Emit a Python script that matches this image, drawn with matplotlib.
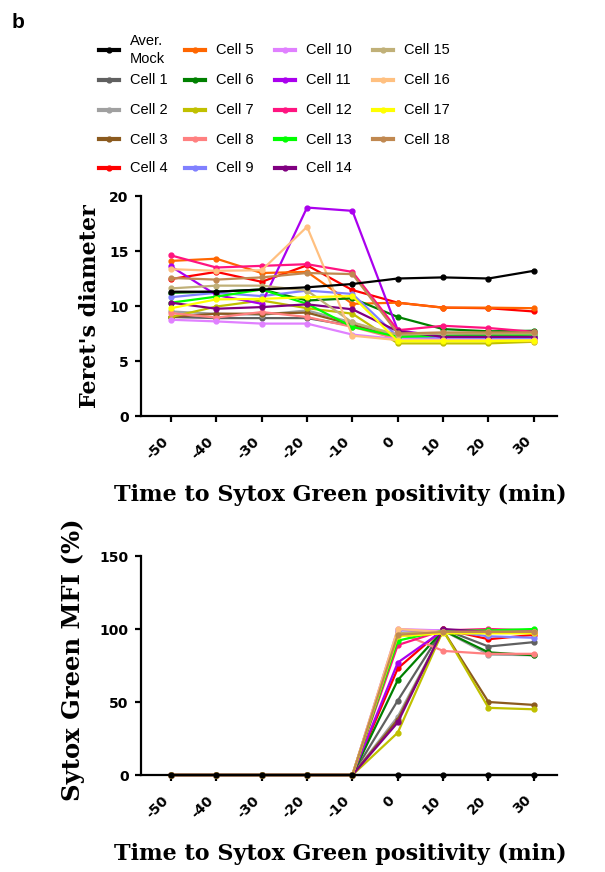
import matplotlib
matplotlib.use("Agg")
import matplotlib.pyplot as plt
from matplotlib.lines import Line2D

time_min = [-50, -40, -30, -20, -10, 0, 10, 20, 30]
tick_labels = ["-50", "-40", "-30", "-20", "-10", "0", "10", "20", "30"]

series_names = ["Aver.\nMock"] + [f"Cell {i}" for i in range(1, 19)]
series_colors = ["#000000", "#606060", "#A0A0A0", "#8B5A1E", "#FF0000", "#FF6600",
                 "#008000", "#C0C000", "#FF8080", "#8080FF", "#E080FF", "#AA00EE",
                 "#FF1480", "#00FF00", "#800080", "#C0B078", "#FFC080", "#FFFF00",
                 "#C08850"]

# Feret's diameter
feret_mock = [11.3, 11.3, 11.5, 11.7, 12.0, 12.5, 12.6, 12.5, 13.2]
feret_c1 = [9.0, 8.9, 8.9, 8.9, 8.2, 7.3, 7.3, 7.4, 7.5]
feret_c2 = [9.5, 9.3, 9.2, 9.6, 8.5, 7.2, 7.2, 7.2, 7.2]
feret_c3 = [9.0, 9.3, 9.3, 9.4, 8.3, 7.0, 7.0, 7.0, 7.0]
feret_c4 = [12.45, 13.1, 12.2, 13.7, 11.45, 10.3, 9.85, 9.8, 9.5]
feret_c5 = [14.1, 14.3, 13.0, 13.1, 10.2, 10.3, 9.85, 9.85, 9.8]
feret_c6 = [11.2, 11.3, 11.5, 10.5, 10.7, 9.0, 7.9, 7.7, 7.75]
feret_c7 = [9.0, 9.95, 10.5, 9.8, 9.3, 6.6, 6.6, 6.6, 6.75]
feret_c8 = [9.35, 8.95, 9.45, 9.0, 8.1, 7.0, 6.9, 6.9, 6.8]
feret_c9 = [10.8, 11.2, 10.9, 11.4, 11.1, 7.2, 7.1, 7.0, 7.0]
feret_c10 = [8.75, 8.6, 8.4, 8.4, 7.4, 7.0, 6.95, 6.9, 6.9]
feret_c11 = [13.6, 11.0, 10.2, 18.95, 18.65, 7.8, 7.2, 7.2, 7.2]
feret_c12 = [14.6, 13.5, 13.65, 13.8, 13.1, 7.8, 8.2, 8.0, 7.65]
feret_c13 = [10.3, 10.85, 11.5, 10.2, 8.1, 7.2, 7.3, 7.3, 7.4]
feret_c14 = [10.3, 9.75, 9.9, 10.15, 9.7, 7.7, 7.2, 7.2, 7.2]
feret_c15 = [11.6, 11.85, 11.85, 11.4, 8.5, 7.4, 7.5, 7.5, 7.5]
feret_c16 = [13.35, 13.2, 13.25, 17.2, 7.3, 6.9, 6.9, 6.9, 6.9]
feret_c17 = [9.8, 10.6, 10.65, 10.8, 10.9, 6.8, 6.8, 6.8, 6.85]
feret_c18 = [12.55, 12.4, 12.6, 13.0, 12.9, 7.5, 7.6, 7.6, 7.6]

# Sytox Green MFI (%)
mfi_mock = [0, 0, 0, 0, 0, 0, 0, 0, 0]
mfi_c1 = [0, 0, 0, 0, 0, 51, 100, 88, 91]
mfi_c2 = [0, 0, 0, 0, 0, 40, 99, 82.5, 82]
mfi_c3 = [0, 0, 0, 0, 0, 38, 99, 50, 48]
mfi_c4 = [0, 0, 0, 0, 0, 73, 100, 93, 96]
mfi_c5 = [0, 0, 0, 0, 0, 97, 99, 98, 98]
mfi_c6 = [0, 0, 0, 0, 0, 65, 99, 84, 82]
mfi_c7 = [0, 0, 0, 0, 0, 29, 99, 46, 45]
mfi_c8 = [0, 0, 0, 0, 0, 98, 85, 83, 83]
mfi_c9 = [0, 0, 0, 0, 0, 99, 99, 95, 94]
mfi_c10 = [0, 0, 0, 0, 0, 100, 99, 99, 99]
mfi_c11 = [0, 0, 0, 0, 0, 77, 99, 98, 98]
mfi_c12 = [0, 0, 0, 0, 0, 89, 99, 100, 99]
mfi_c13 = [0, 0, 0, 0, 0, 92, 99, 99, 100]
mfi_c14 = [0, 0, 0, 0, 0, 36, 100, 98, 98]
mfi_c15 = [0, 0, 0, 0, 0, 97, 98, 98, 98]
mfi_c16 = [0, 0, 0, 0, 0, 100, 98, 98, 98]
mfi_c17 = [0, 0, 0, 0, 0, 95, 97, 97, 97]
mfi_c18 = [0, 0, 0, 0, 0, 96, 98, 98, 98]

feret_series = [feret_mock, feret_c1, feret_c2, feret_c3, feret_c4, feret_c5, feret_c6,
                feret_c7, feret_c8, feret_c9, feret_c10, feret_c11, feret_c12, feret_c13,
                feret_c14, feret_c15, feret_c16, feret_c17, feret_c18]
mfi_series = [mfi_mock, mfi_c1, mfi_c2, mfi_c3, mfi_c4, mfi_c5, mfi_c6, mfi_c7, mfi_c8,
              mfi_c9, mfi_c10, mfi_c11, mfi_c12, mfi_c13, mfi_c14, mfi_c15, mfi_c16,
              mfi_c17, mfi_c18]

W, H = 605, 872
fig = plt.figure(figsize=(W / 100, H / 100), dpi=100)

def px_axes(left, top, right, bottom):
    return fig.add_axes([left / W, 1 - bottom / H, (right - left) / W, (bottom - top) / H])

ax1 = px_axes(141, 196, 557, 416)
ax2 = px_axes(141, 556, 557, 775)

tick_font = dict(family="DejaVu Sans", weight="bold", size=10)

def style(ax, ylim, yticks, ylabel, ylabel_size, ylabel_y, ylabel_pad):
    ax.set_xlim(-56.6, 35.1)
    ax.set_ylim(*ylim)
    for s in ["top", "right"]:
        ax.spines[s].set_visible(False)
    for s in ["left", "bottom"]:
        ax.spines[s].set_linewidth(1.6)
    ax.set_xticks(time_min)
    ax.set_xticklabels(tick_labels, rotation=45, ha="right", va="top", fontdict=tick_font)
    ax.set_yticks(yticks)
    ax.set_yticklabels([str(v) for v in yticks], fontdict=tick_font)
    ax.tick_params(axis="x", length=4, width=1.6, pad=9)
    ax.tick_params(axis="y", length=4, width=1.6, pad=5)
    ax.set_ylabel(ylabel, family="DejaVu Serif", weight="bold", size=ylabel_size,
                  labelpad=ylabel_pad, y=ylabel_y)
    ax.set_xlabel("Time to Sytox Green positivity (min)", family="DejaVu Serif",
                  weight="bold", size=16, labelpad=16, x=0.48)

def draw(ax, series):
    order = list(range(1, len(series))) + [0]
    for i in order:
        ax.plot(time_min, series[i], color=series_colors[i], lw=1.6, marker="o", ms=3.5,
                clip_on=False, zorder=3 if i == 0 else 2)

draw(ax1, feret_series)
draw(ax2, mfi_series)

style(ax1, (0, 20), [0, 5, 10, 15, 20], "Feret's diameter", 16, 0.5, 6)
style(ax2, (0, 150), [0, 50, 100, 150], "Sytox Green MFI (%)", 17.5, 0.525, 10)

# Legend, laid out in 4 columns of 5 rows (column-major)
col_x = [99, 185, 275, 373]
row_y = [50, 80.5, 110, 139.5, 168]
for i, (name, col) in enumerate(zip(series_names, series_colors)):
    c, r = divmod(i, 5)
    x0, y0 = col_x[c], row_y[r]
    fy = 1 - y0 / H
    fig.add_artist(Line2D([x0 / W, (x0 + 20) / W], [fy, fy], color=col, lw=3,
                          transform=fig.transFigure))
    fig.add_artist(Line2D([(x0 + 10) / W], [fy], color=col, marker="o", ms=3.5,
                          transform=fig.transFigure))
    fig.text((x0 + 31) / W, fy, name, ha="left", va="center", family="Liberation Sans",
             size=10.5, linespacing=1.45)

fig.text(12 / W, 1 - 28 / H, "b", family="Liberation Sans", weight="bold", size=15)

fig.savefig("out.png", dpi=100)
